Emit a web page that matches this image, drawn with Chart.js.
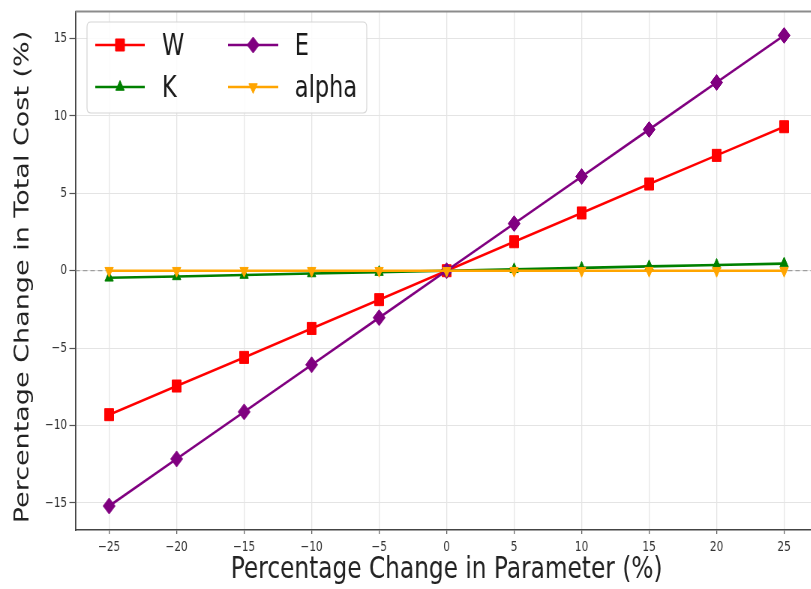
<!DOCTYPE html>
<html>
<head>
<meta charset="utf-8">
<script src="https://cdn.jsdelivr.net/npm/chart.js@4"></script>
<style>
  html, body { margin: 0; padding: 0; background: #fff; overflow: hidden; width: 811px; height: 589px; }
  #wrap { width: 1100px; height: 589px; transform: scaleX(0.75); transform-origin: 0 0; }
  canvas { display: block; }
</style>
</head>
<body>
<div id="wrap"><canvas id="c" width="1100" height="589"></canvas></div>
<script>
// ---- data ----
const paramChange = [-25, -20, -15, -10, -5, 0, 5, 10, 15, 20, 25];
const seriesW     = [-9.3, -7.45, -5.6, -3.73, -1.87, 0, 1.87, 3.73, 5.6, 7.45, 9.3];
const seriesK     = [-0.46, -0.37, -0.28, -0.18, -0.09, 0, 0.09, 0.18, 0.28, 0.37, 0.46];
const seriesE     = [-15.2, -12.16, -9.12, -6.08, -3.04, 0, 3.04, 6.08, 9.12, 12.16, 15.2];
const seriesAlpha = [0, 0, 0, 0, 0, 0, 0, 0, 0, 0, 0];
const seriesNames = ['W', 'K', 'E', 'alpha'];
const xTickValues = [-25, -20, -15, -10, -5, 0, 5, 10, 15, 20, 25];
const yTickValues = [-15, -10, -5, 0, 5, 10, 15];
const xTitle = 'Percentage Change in Parameter (%)';
const yTitle = 'Percentage Change in Total Cost (%)';

const FONT = "'DejaVu Sans', 'Liberation Sans', sans-serif";
const pts = arr => paramChange.map((x, i) => ({ x: x, y: arr[i] }));
const fmt = v => v < 0 ? '\u2212' + Math.abs(v) : String(v);

const styles = [
  { color: '#ff0000', pointStyle: 'rect',     radius: 8.5, rotation: 0,   order: 3 },
  { color: '#008000', pointStyle: 'triangle', radius: 6.5, rotation: 0,   order: 2 },
  { color: '#800080', pointStyle: 'rectRot',  radius: 8,   rotation: 0,   order: 1 },
  { color: '#ffa500', pointStyle: 'triangle', radius: 6.5, rotation: 180, order: 0 }
];
const seriesData = [seriesW, seriesK, seriesE, seriesAlpha];

const datasets = seriesNames.map((name, i) => ({
  label: name,
  data: pts(seriesData[i]),
  borderColor: styles[i].color,
  backgroundColor: styles[i].color,
  borderWidth: 2.6,
  pointStyle: styles[i].pointStyle,
  pointRadius: styles[i].radius,
  pointRotation: styles[i].rotation,
  pointBorderWidth: 1,
  pointBorderColor: styles[i].color,
  pointBackgroundColor: styles[i].color,
  tension: 0,
  order: styles[i].order
}));

const framePlugin = {
  id: 'frame',
  beforeDatasetsDraw(chart) {
    const { ctx, chartArea: a, scales } = chart;
    const y0 = scales.y.getPixelForValue(0);
    ctx.save();
    ctx.strokeStyle = 'rgba(128,128,128,0.7)';
    ctx.lineWidth = 1.3;
    ctx.setLineDash([6, 4]);
    ctx.beginPath();
    ctx.moveTo(a.left, y0);
    ctx.lineTo(a.right, y0);
    ctx.stroke();
    ctx.restore();
  },
  afterDraw(chart) {
    const { ctx, chartArea: a } = chart;
    ctx.save();
    // top spine
    ctx.strokeStyle = '#8c8c8c';
    ctx.lineWidth = 2;
    ctx.beginPath();
    ctx.moveTo(a.left, a.top);
    ctx.lineTo(a.right, a.top);
    ctx.stroke();
    // y axis title (centred as in the reference)
    ctx.save();
    ctx.translate(30.5, 277);
    ctx.rotate(-Math.PI / 2);
    ctx.fillStyle = '#222';
    ctx.font = '27px ' + FONT;
    ctx.textAlign = 'center';
    ctx.textBaseline = 'middle';
    ctx.fillText(yTitle, 0, 0);
    ctx.restore();
    // legend
    const bx = 116, by = 22, bw = 373, bh = 91, r = 5;
    ctx.fillStyle = 'rgba(255,255,255,0.85)';
    ctx.strokeStyle = '#d6d6d6';
    ctx.lineWidth = 1.2;
    ctx.beginPath();
    ctx.moveTo(bx + r, by);
    ctx.lineTo(bx + bw - r, by);
    ctx.quadraticCurveTo(bx + bw, by, bx + bw, by + r);
    ctx.lineTo(bx + bw, by + bh - r);
    ctx.quadraticCurveTo(bx + bw, by + bh, bx + bw - r, by + bh);
    ctx.lineTo(bx + r, by + bh);
    ctx.quadraticCurveTo(bx, by + bh, bx, by + bh - r);
    ctx.lineTo(bx, by + r);
    ctx.quadraticCurveTo(bx, by, bx + r, by);
    ctx.closePath();
    ctx.fill();
    ctx.stroke();
    const cols = [{ x0: 127, x1: 193, tx: 216 }, { x0: 304, x1: 371, tx: 393 }];
    const rows = [{ y: 45, base: 55 }, { y: 87, base: 97 }];
    // order in legend: column-major (W, K | E, alpha)
    seriesNames.forEach((name, i) => {
      const c = cols[Math.floor(i / 2)], rw = rows[i % 2];
      const st = styles[i];
      ctx.strokeStyle = st.color;
      ctx.lineWidth = 2.6;
      ctx.setLineDash([]);
      ctx.beginPath();
      ctx.moveTo(c.x0, rw.y);
      ctx.lineTo(c.x1, rw.y);
      ctx.stroke();
      ctx.fillStyle = st.color;
      ctx.strokeStyle = st.color;
      ctx.lineWidth = 1;
      Chart.helpers.drawPoint(ctx, { pointStyle: st.pointStyle, radius: st.radius, rotation: st.rotation, borderWidth: 1 }, (c.x0 + c.x1) / 2, rw.y);
      ctx.fillStyle = '#1a1a1a';
      ctx.font = '30px ' + FONT;
      ctx.textAlign = 'left';
      ctx.textBaseline = 'alphabetic';
      ctx.fillText(name, c.tx, rw.base);
    });
    ctx.restore();
  }
};

new Chart(document.getElementById('c'), {
  type: 'line',
  data: { datasets: datasets },
  options: {
    responsive: false,
    animation: false,
    devicePixelRatio: 1,
    layout: { padding: { top: 8, right: 5.5, left: 0, bottom: 0 } },
    plugins: { legend: { display: false }, tooltip: { enabled: false } },
    scales: {
      x: {
        type: 'linear',
        min: -27.5,
        max: 27.5,
        afterBuildTicks: s => { s.ticks = xTickValues.map(v => ({ value: v })); },
        afterFit: s => { s.height = 59; },
        grid: { color: '#e4e4e4', lineWidth: 1.3, tickColor: '#555', tickLength: 4, tickWidth: 1.2 },
        border: { display: true, color: '#444', width: 1.6 },
        ticks: { callback: v => fmt(v), font: { family: FONT, size: 14 }, color: '#333', padding: 5, maxRotation: 0 },
        title: { display: true, text: xTitle, font: { family: FONT, size: 31 }, color: '#222', padding: { top: 0, bottom: 0 } }
      },
      y: {
        type: 'linear',
        min: -16.75,
        max: 16.75,
        afterBuildTicks: s => { s.ticks = yTickValues.map(v => ({ value: v })); },
        afterFit: s => { s.width = 100.5; },
        grid: { color: '#e4e4e4', lineWidth: 1, tickColor: '#555', tickLength: 8, tickWidth: 1.2 },
        border: { display: true, color: '#444', width: 1.8 },
        ticks: { callback: v => fmt(v), font: { family: FONT, size: 14 }, color: '#333', padding: 3 },
        title: { display: false, text: yTitle }
      }
    }
  },
  plugins: [framePlugin]
});
</script>
</body>
</html>
